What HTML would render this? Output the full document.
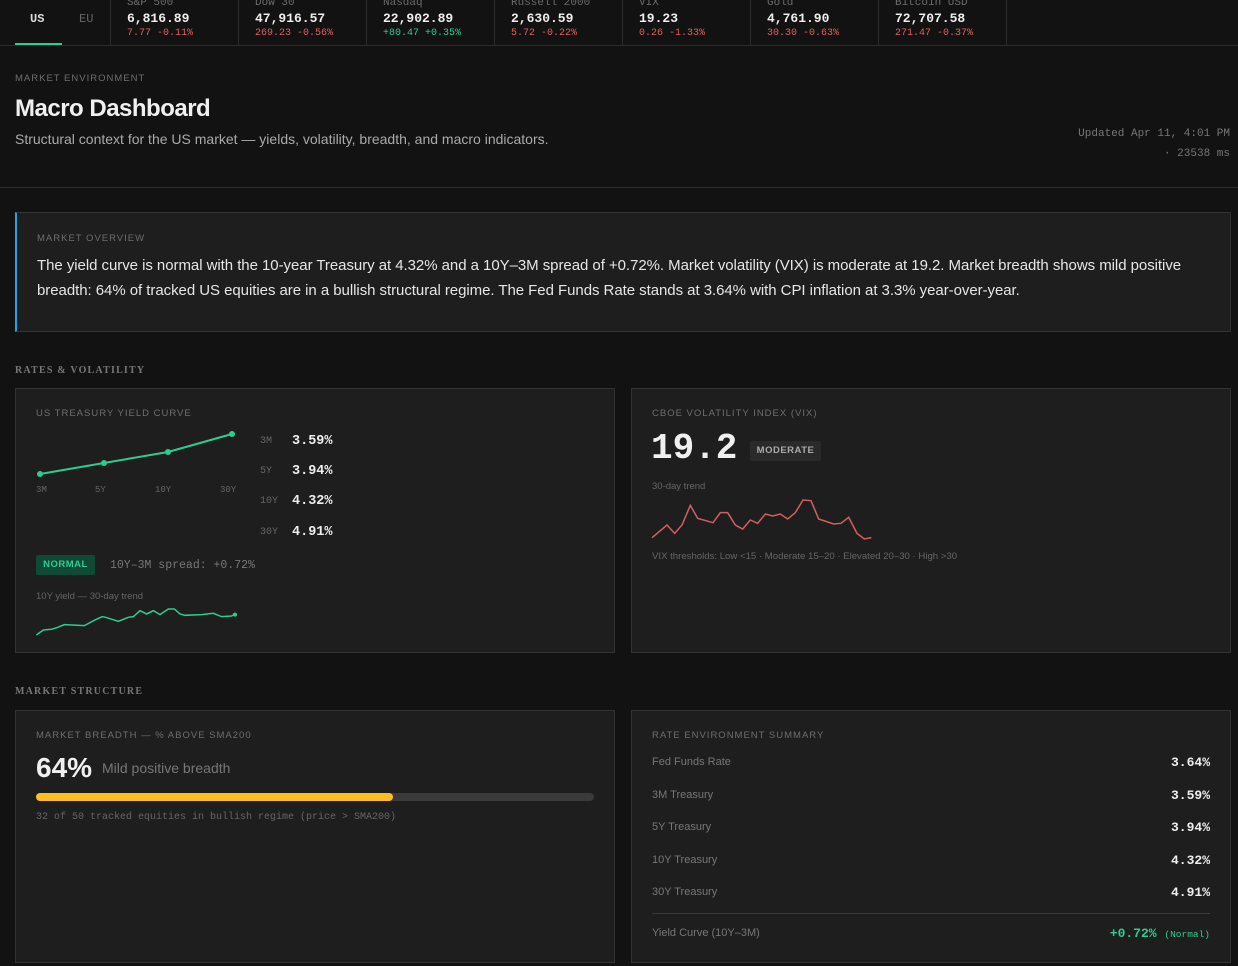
<!DOCTYPE html>
<html><head><meta charset="utf-8"><style>
*{margin:0;padding:0;box-sizing:border-box}
body{width:1238px;height:966px;background:#121212;color:#e8e8e8;font-family:"Liberation Sans",sans-serif;position:relative;overflow:hidden}
.a{position:absolute;white-space:nowrap}
.m{font-family:"Liberation Mono",monospace}
.lab{font-size:10px;letter-spacing:1px;color:#6e6e6e}
.card{position:absolute;background:#1e1e1e;border:1px solid #333}
.sec{font-family:"Liberation Serif",serif;font-weight:bold;font-size:10px;letter-spacing:1.2px;color:#777}
.red{color:#e06060}.grn{color:#2ecc8f}
.tk{position:absolute;top:0;height:45px;width:128px;border-left:1px solid #2c2c2c}
.tk .n{position:absolute;left:16px;top:-3px;font-size:11px;color:#6a6a6a}
.tk .v{position:absolute;left:16px;top:11px;font-size:13px;font-weight:bold;color:#eee}
.tk .c{position:absolute;left:16px;top:28px;font-size:10px}
</style></head><body>
<div class="a" style="left:0;top:45px;width:1238px;height:1px;background:#2c2c2c"></div>
<div class="a m" style="left:30px;top:12px;font-size:12px;font-weight:bold;color:#ddd">US</div>
<div class="a" style="left:15px;top:43px;width:47px;height:2px;background:#2ecc8f"></div>
<div class="a m" style="left:79px;top:12px;font-size:12px;color:#666">EU</div>
<div class="tk m" style="left:110px"><div class="n">S&amp;P 500</div><div class="v">6,816.89</div><div class="c red">7.77 -0.11%</div></div>
<div class="tk m" style="left:238px"><div class="n">Dow 30</div><div class="v">47,916.57</div><div class="c red">269.23 -0.56%</div></div>
<div class="tk m" style="left:366px"><div class="n">Nasdaq</div><div class="v">22,902.89</div><div class="c grn">+80.47 +0.35%</div></div>
<div class="tk m" style="left:494px"><div class="n">Russell 2000</div><div class="v">2,630.59</div><div class="c red">5.72 -0.22%</div></div>
<div class="tk m" style="left:622px"><div class="n">VIX</div><div class="v">19.23</div><div class="c red">0.26 -1.33%</div></div>
<div class="tk m" style="left:750px"><div class="n">Gold</div><div class="v">4,761.90</div><div class="c red">30.30 -0.63%</div></div>
<div class="tk m" style="left:878px"><div class="n">Bitcoin USD</div><div class="v">72,707.58</div><div class="c red">271.47 -0.37%</div></div>
<div class="tk" style="left:1006px;width:1px"></div>

<div class="a lab" style="left:15px;top:73px;font-size:9.5px">MARKET ENVIRONMENT</div>
<div class="a" style="left:15px;top:95px;font-size:24px;font-weight:bold;color:#f0f0f0;letter-spacing:-0.5px">Macro Dashboard</div>
<div class="a" style="left:15px;top:131px;font-size:14px;color:#aaa">Structural context for the US market — yields, volatility, breadth, and macro indicators.</div>
<div class="a m" style="right:8px;top:128px;font-size:11px;color:#777">Updated Apr 11, 4:01 PM</div>
<div class="a m" style="right:8px;top:148px;font-size:11px;color:#777">· 23538 ms</div>
<div class="a" style="left:0;top:187px;width:1238px;height:1px;background:#2c2c2c"></div>

<div class="card" style="left:15px;top:212px;width:1216px;height:120px;border-left:2px solid #2aa0e0"></div>
<div class="a lab" style="left:37px;top:233px;font-size:9.5px">MARKET OVERVIEW</div>
<div class="a" style="left:37px;top:257px;font-size:15px;letter-spacing:-0.05px;color:#e6e6e6">The yield curve is normal with the 10-year Treasury at 4.32% and a 10Y–3M spread of +0.72%. Market volatility (VIX) is moderate at 19.2. Market breadth shows mild positive</div>
<div class="a" style="left:37px;top:282px;font-size:15px;letter-spacing:-0.05px;color:#e6e6e6">breadth: 64% of tracked US equities are in a bullish structural regime. The Fed Funds Rate stands at 3.64% with CPI inflation at 3.3% year-over-year.</div>

<div class="a sec" style="left:15px;top:365px">RATES &amp; VOLATILITY</div>
<div class="card" style="left:15px;top:388px;width:600px;height:265px"></div>
<div class="card" style="left:631px;top:388px;width:600px;height:265px"></div>
<div class="a lab" style="left:36px;top:408px;font-size:9.5px">US TREASURY YIELD CURVE</div>
<svg class="a" style="left:0;top:0" width="640" height="700">
<polyline points="40,474 104,463 168,452 232,434" fill="none" stroke="#2ecc8f" stroke-width="2"/>
<circle cx="40" cy="474" r="3" fill="#2ecc8f"/><circle cx="104" cy="463" r="3" fill="#2ecc8f"/><circle cx="168" cy="452" r="3" fill="#2ecc8f"/><circle cx="232" cy="434" r="3" fill="#2ecc8f"/>
<g font-family="Liberation Mono" font-size="9" fill="#666"><text x="36" y="492">3M</text><text x="95" y="492">5Y</text><text x="155" y="492">10Y</text><text x="220" y="492">30Y</text></g>
<g transform="translate(15,390) scale(0.3333)"><polyline fill="none" stroke="#2ecc8f" stroke-width="4.5" points="64,735 85,720 110,718 128,712 148,704 208,707 240,690 262,680 272,682 310,694 340,682 355,680 375,662 395,672 415,662 435,674 460,657 478,657 495,672 510,676 560,674 595,670 620,680 650,678 660,672"/><circle cx="660" cy="674" r="6" fill="#2ecc8f"/></g>
</svg>
<div class="a m" style="left:260px;top:436px;font-size:10px;color:#666">3M</div><div class="a m" style="left:292px;top:434px;font-size:13.5px;font-weight:bold;color:#eee">3.59%</div>
<div class="a m" style="left:260px;top:466px;font-size:10px;color:#666">5Y</div><div class="a m" style="left:292px;top:464px;font-size:13.5px;font-weight:bold;color:#eee">3.94%</div>
<div class="a m" style="left:260px;top:496px;font-size:10px;color:#666">10Y</div><div class="a m" style="left:292px;top:494px;font-size:13.5px;font-weight:bold;color:#eee">4.32%</div>
<div class="a m" style="left:260px;top:527px;font-size:10px;color:#666">30Y</div><div class="a m" style="left:292px;top:525px;font-size:13.5px;font-weight:bold;color:#eee">4.91%</div>
<div class="a" style="left:36px;top:555px;width:59px;height:20px;background:#0f4a36;border-radius:2px;color:#2ecc8f;font-size:9.5px;font-weight:bold;letter-spacing:0.5px;text-align:center;line-height:20px">NORMAL</div>
<div class="a m" style="left:110px;top:559px;font-size:11.5px;color:#777">10Y–3M spread: +0.72%</div>
<div class="a" style="left:36px;top:591px;font-size:9.5px;color:#666">10Y yield — 30-day trend</div>

<div class="a lab" style="left:652px;top:408px;font-size:9.5px">CBOE VOLATILITY INDEX (VIX)</div>
<div class="a m" style="left:651px;top:428px;font-size:36px;font-weight:bold;color:#f0f0f0;letter-spacing:0px">19.2</div>
<div class="a" style="left:750px;top:441px;width:71px;height:20px;background:#2a2a2a;border-radius:2px;color:#aaa;font-size:9.5px;font-weight:bold;letter-spacing:0.5px;text-align:center;line-height:20px">MODERATE</div>
<div class="a" style="left:652px;top:481px;font-size:9.5px;color:#666">30-day trend</div>
<svg class="a" style="left:632px;top:390px" width="360" height="180" viewBox="0 0 1080 540"><polyline fill="none" stroke="#d06060" stroke-width="4.5" points="60,443 105,405 128,430 150,405 175,346 197,385 243,398 265,368 287,368 310,405 332,417 355,390 377,400 400,372 422,378 445,372 467,387 490,368 513,330 537,332 560,387 605,402 627,400 650,382 675,430 697,447 718,443"/></svg>
<div class="a" style="left:652px;top:551px;font-size:9.6px;color:#666">VIX thresholds: Low &lt;15 · Moderate 15–20 · Elevated 20–30 · High &gt;30</div>

<div class="a sec" style="left:15px;top:686px">MARKET STRUCTURE</div>
<div class="card" style="left:15px;top:710px;width:600px;height:253px"></div>
<div class="card" style="left:631px;top:710px;width:600px;height:253px"></div>
<div class="a lab" style="left:36px;top:730px;font-size:9.5px">MARKET BREADTH — % ABOVE SMA200</div>
<div class="a" style="left:36px;top:752px;font-size:28px;font-weight:bold;color:#f0f0f0">64%</div>
<div class="a" style="left:102px;top:760px;font-size:14px;color:#777">Mild positive breadth</div>
<div class="a" style="left:36px;top:793px;width:558px;height:8px;background:#3a3a3a;border-radius:4px"></div>
<div class="a" style="left:36px;top:793px;width:357px;height:8px;background:#fbbf24;border-radius:4px"></div>
<div class="a m" style="left:36px;top:812px;font-size:10px;color:#666">32 of 50 tracked equities in bullish regime (price &gt; SMA200)</div>

<div class="a lab" style="left:652px;top:730px;font-size:9.5px">RATE ENVIRONMENT SUMMARY</div>
<div class="a" style="left:652px;top:756px;font-size:11px;color:#777">Fed Funds Rate</div><div class="a m" style="right:28px;top:755px;font-size:13px;font-weight:bold;color:#eee">3.64%</div>
<div class="a" style="left:652px;top:789px;font-size:11px;color:#777">3M Treasury</div><div class="a m" style="right:28px;top:788px;font-size:13px;font-weight:bold;color:#eee">3.59%</div>
<div class="a" style="left:652px;top:821px;font-size:11px;color:#777">5Y Treasury</div><div class="a m" style="right:28px;top:820px;font-size:13px;font-weight:bold;color:#eee">3.94%</div>
<div class="a" style="left:652px;top:854px;font-size:11px;color:#777">10Y Treasury</div><div class="a m" style="right:28px;top:853px;font-size:13px;font-weight:bold;color:#eee">4.32%</div>
<div class="a" style="left:652px;top:886px;font-size:11px;color:#777">30Y Treasury</div><div class="a m" style="right:28px;top:885px;font-size:13px;font-weight:bold;color:#eee">4.91%</div>
<div class="a" style="left:652px;top:913px;width:558px;height:1px;background:#3a3a3a"></div>
<div class="a" style="left:652px;top:927px;font-size:11px;color:#777">Yield Curve (10Y–3M)</div>
<div class="a m" style="right:28px;top:926px;font-size:13px;color:#2ecc8f"><b>+0.72%</b> <span style="font-size:9.5px">(Normal)</span></div>
</body></html>
